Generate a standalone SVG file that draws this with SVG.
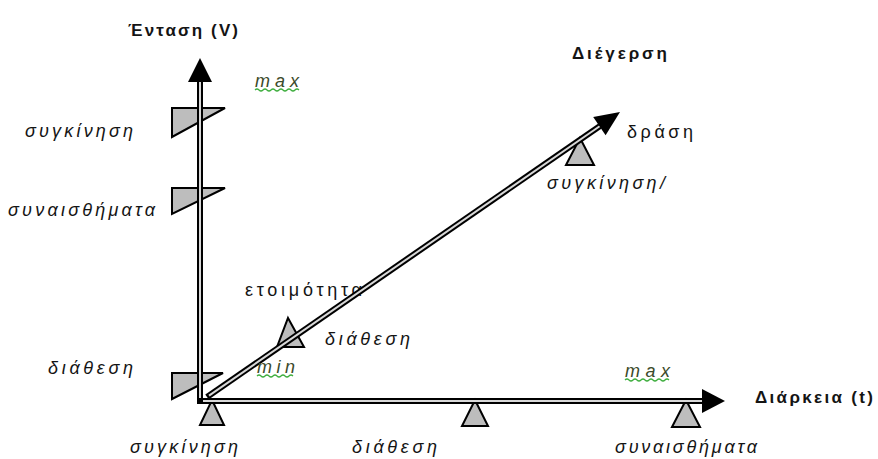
<svg xmlns="http://www.w3.org/2000/svg" width="878" height="459" viewBox="0 0 878 459">
<style>
text{font-family:"Liberation Sans","DejaVu Sans",sans-serif;fill:#141414;}
.b{font-weight:bold;font-size:17px;}
.i{font-style:italic;font-size:18px;}
.n{font-size:18px;}
.g{font-style:italic;font-size:18px;fill:#3b4a2a;}
.ul{fill:none;stroke:#3fae3f;stroke-width:1.2;}
.outer{stroke:#000;stroke-width:6;fill:none;}
.inner{stroke:#d8d8d8;stroke-width:2;fill:none;}
.tri{fill:#bdbdbd;stroke:#000;stroke-width:2;stroke-linejoin:miter;}
.head{fill:#000;}
</style>
<g id="n-v-1"><polygon class="tri" points="172,108 225,108 172,137"/><text class="i" x="25" y="137" textLength="108" lengthAdjust="spacing">συγκίνηση</text></g>
<g id="n-v-2"><polygon class="tri" points="172,188 225,188 172,214"/><text class="i" x="8" y="216" textLength="147" lengthAdjust="spacing">συναισθήματα</text></g>
<g id="n-v-3"><polygon class="tri" points="172,373 223,373 172,399"/><text class="i" x="48" y="374" textLength="85" lengthAdjust="spacing">διάθεση</text></g>
<g id="n-h-1"><polygon class="tri" points="212,400 224,425 200,425"/><text class="i" x="130" y="453" textLength="108" lengthAdjust="spacing">συγκίνηση</text></g>
<g id="n-h-2"><polygon class="tri" points="475,400 488,426 462,426"/><text class="i" x="352" y="453" textLength="85" lengthAdjust="spacing">διάθεση</text></g>
<g id="n-h-3"><polygon class="tri" points="686,400 700,427 672,427"/><text class="i" x="615" y="453" textLength="142" lengthAdjust="spacing">συναισθήματα</text></g>
<g id="n-d-1"><polygon class="tri" points="288,318 304,347 277,347"/><text class="i" x="325" y="345" textLength="85" lengthAdjust="spacing">διάθεση</text></g>
<g id="n-d-2"><polygon class="tri" points="580,138 594,165 566,165"/><text class="i" x="547" y="189" textLength="118" lengthAdjust="spacing">συγκίνηση/</text></g>
<g id="n-d-2b"><text class="n" x="627" y="138" textLength="66" lengthAdjust="spacing">δράση</text></g>
<g id="n-ready"><text class="n" x="245" y="296" textLength="117" lengthAdjust="spacing">ετοιμότητα</text></g>
<g id="connectors">
  <g id="axis-v">
    <line class="outer" x1="200" y1="403" x2="200" y2="80"/>
    <line class="inner" x1="200" y1="400" x2="200" y2="80"/>
    <polygon class="head" points="200,58 212,82 188,82"/>
  </g>
  <g id="axis-h">
    <line class="outer" x1="197" y1="401" x2="705" y2="401"/>
    <line class="inner" x1="203" y1="401" x2="705" y2="401"/>
    <polygon class="head" points="725,401 702,389 702,413"/>
  </g>
  <g id="axis-d">
    <line class="outer" x1="207" y1="397" x2="600" y2="126"/>
    <line class="inner" x1="209" y1="395.6" x2="600" y2="126"/>
    <polygon class="head" points="620,112 605.6,135.3 593.2,117.1"/>
  </g>
</g>
<g id="lbl-v"><text class="b" x="128" y="36" textLength="110" lengthAdjust="spacing">Ένταση (V)</text></g>
<g id="lbl-h"><text class="b" x="755" y="403" textLength="118" lengthAdjust="spacing">Διάρκεια (t)</text></g>
<g id="lbl-d"><text class="b" x="572" y="59" textLength="95" lengthAdjust="spacing">Διέγερση</text></g>
<g id="max-v"><text class="g" x="255" y="87" textLength="44" lengthAdjust="spacing">max</text><path class="ul" d="M255,90 q2,-2 4,0 t4,0 t4,0 t4,0 t4,0 t4,0 t4,0 t4,0 t4,0 t4,0 t4,0"/></g>
<g id="max-h"><text class="g" x="625" y="377" textLength="45" lengthAdjust="spacing">max</text><path class="ul" d="M625,380 q2,-2 4,0 t4,0 t4,0 t4,0 t4,0 t4,0 t4,0 t4,0 t4,0 t4,0 t4,0"/></g>
<g id="min-d"><text class="g" x="257" y="373" textLength="38" lengthAdjust="spacing">min</text><path class="ul" d="M257,376 q2,-2 4,0 t4,0 t4,0 t4,0 t4,0 t4,0 t4,0 t4,0 t4,0"/></g>
</svg>
